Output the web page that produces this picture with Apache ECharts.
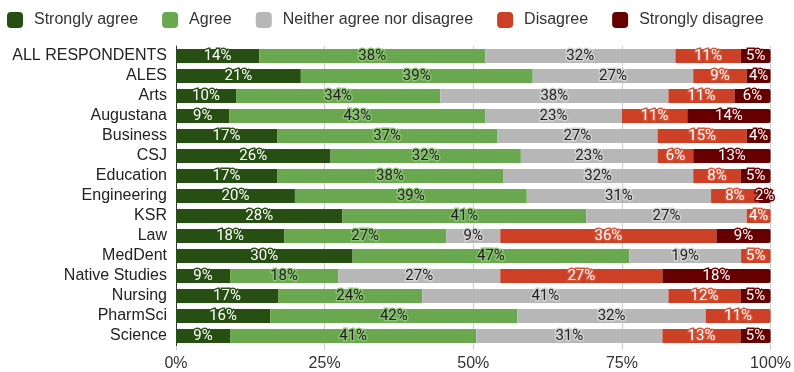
<!DOCTYPE html>
<html>
<head>
<meta charset="utf-8">
<script src="https://cdn.jsdelivr.net/npm/echarts@6/dist/echarts.min.js"></script>
<style>
  html, body { margin: 0; padding: 0; background: #fff; }
  #chart { width: 794px; height: 372px; }
</style>
</head>
<body>
<div id="chart"></div>
<script>
// Survey responses by faculty (percent of respondents)
const categories = ['ALL RESPONDENTS', 'ALES', 'Arts', 'Augustana', 'Business', 'CSJ', 'Education',
  'Engineering', 'KSR', 'Law', 'MedDent', 'Native Studies', 'Nursing', 'PharmSci', 'Science'];
const stronglyAgree    = [14, 21, 10,  9, 17, 26, 17, 20, 28, 18, 30,  9, 17, 16,  9];
const agree            = [38, 39, 34, 43, 37, 32, 38, 39, 41, 27, 47, 18, 24, 42, 41];
const neither          = [32, 27, 38, 23, 27, 23, 32, 31, 27,  9, 19, 27, 41, 32, 31];
const disagree         = [11,  9, 11, 11, 15,  6,  8,  8,  4, 36,  5, 27, 12, 11, 13];
const stronglyDisagree = [ 5,  4,  6, 14,  4, 13,  5,  2,  0,  9,  0, 18,  5,  0,  5];
const xTicks = ['0%', '25%', '50%', '75%', '100%'];

const seriesDefs = [
  { name: 'Strongly agree', values: stronglyAgree, color: '#274e13', text: '#ffffff', halo: '#274e13' },
  { name: 'Agree', values: agree, color: '#6aa84f', text: '#222222', halo: '#8cc274' },
  { name: 'Neither agree nor disagree', values: neither, color: '#b7b7b7', text: '#222222', halo: '#d2d2d2' },
  { name: 'Disagree', values: disagree, color: '#cc4125', text: '#ffffff', halo: '#d4543a' },
  { name: 'Strongly disagree', values: stronglyDisagree, color: '#660000', text: '#ffffff', halo: '#660000' }
];

// Each row is shown as a 100% stacked bar
const rowTotals = categories.map((_, i) => seriesDefs.reduce((s, d) => s + d.values[i], 0));
const lastIndex = categories.map((_, i) => {
  let last = 0;
  seriesDefs.forEach((d, k) => { if (d.values[i] > 0) last = k; });
  return last;
});

const series = seriesDefs.map((d, k) => ({
  name: d.name,
  type: 'bar',
  stack: 'total',
  barWidth: 14,
  itemStyle: { color: d.color },
  label: {
    show: true,
    position: 'inside',
    fontFamily: 'Roboto',
    fontSize: 15,
    color: d.text,
    textBorderColor: d.halo,
    textBorderWidth: 3,
    formatter: p => d.values[p.dataIndex] > 0 ? d.values[p.dataIndex] + '%' : ''
  },
  data: d.values.map((v, i) => ({
    value: v / rowTotals[i] * 100,
    itemStyle: { borderRadius: lastIndex[i] === k ? [0, 2, 2, 0] : 0 }
  }))
}));

const chart = echarts.init(document.getElementById('chart'), null, { renderer: 'canvas' });
chart.setOption({
  animation: false,
  color: seriesDefs.map(d => d.color),
  legend: {
    left: 7,
    top: 12,
    padding: 0,
    itemWidth: 16,
    itemHeight: 16,
    itemGap: 24,
    icon: 'roundRect',
    textStyle: { fontFamily: 'Liberation Sans', fontSize: 16, color: '#333', padding: [0, 0, 0, 6] },
    data: seriesDefs.map(d => d.name)
  },
  grid: { left: 176, right: 19, top: 46, bottom: 26, containLabel: false },
  xAxis: {
    type: 'value',
    min: 0,
    max: 100,
    interval: 25,
    axisLine: { show: false },
    axisTick: { show: true, length: 4, lineStyle: { color: '#cccccc' } },
    splitLine: { show: true, lineStyle: { color: '#cccccc', width: 1 } },
    axisLabel: {
      margin: 10,
      fontFamily: 'Liberation Sans',
      fontSize: 16,
      color: '#333',
      formatter: v => xTicks[Math.round(v / 25)]
    }
  },
  yAxis: {
    type: 'category',
    inverse: true,
    data: categories,
    axisLine: { show: true, lineStyle: { color: '#333333', width: 1 } },
    axisTick: { show: false },
    axisLabel: {
      interval: 0,
      margin: 9,
      fontFamily: 'Liberation Sans',
      fontSize: 16,
      color: '#222'
    }
  },
  series: series
});
</script>
</body>
</html>
